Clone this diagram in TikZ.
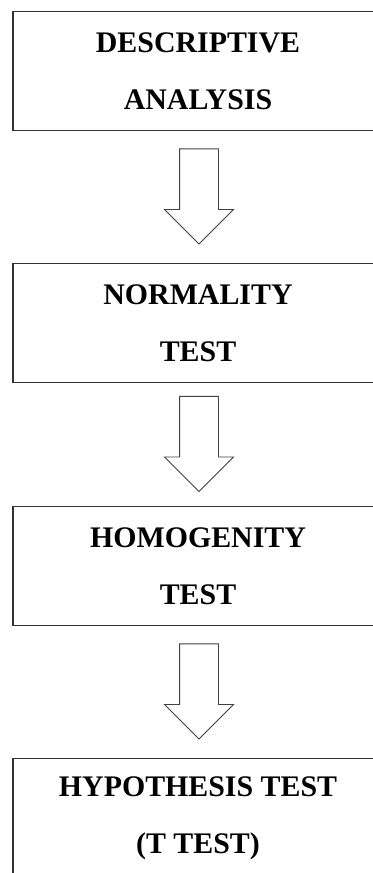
\documentclass[tikz,border=0pt]{standalone}
\usepackage{fontspec}
\setmainfont{Liberation Serif}
\usetikzlibrary{positioning,shapes.arrows,calc}

\begin{document}
\begin{tikzpicture}[
  stepbox/.style={draw=black!80, line width=0.6pt, minimum width=7.4cm,
    minimum height=2.38cm, inner sep=0pt, align=center,
    font=\fontsize{17}{32.5}\selectfont\bfseries},
  downarrow/.style={draw=black!75, line width=0.5pt, single arrow,
    single arrow head extend=0.3cm, single arrow head indent=0pt,
    inner xsep=0pt, inner ysep=0.38cm, minimum width=0pt,
    minimum height=1.9cm, rotate=-90, anchor=tip}]

\useasboundingbox (0,0) rectangle (7.46,-17.46);

% Steps
\node[stepbox] (da) at (3.96,-1.42) {DESCRIPTIVE\\ANALYSIS};
\node[stepbox] (nt) at (3.96,-6.46) {NORMALITY\\TEST};
\node[stepbox] (ht) at (3.96,-11.32) {HOMOGENITY\\TEST};
\node[stepbox] (tt) at (3.96,-16.36) {HYPOTHESIS TEST\\(T TEST)};

% Block arrows between the steps
\node[downarrow] (a1) at ($(da.south)!0.5!(nt.north)+(0.02,-0.95)$) {};
\node[downarrow] (a2) at ($(nt.south)!0.5!(ht.north)+(0.02,-0.95)$) {};
\node[downarrow] (a3) at ($(ht.south)!0.5!(tt.north)+(0.02,-0.95)$) {};

\end{tikzpicture}
\end{document}
